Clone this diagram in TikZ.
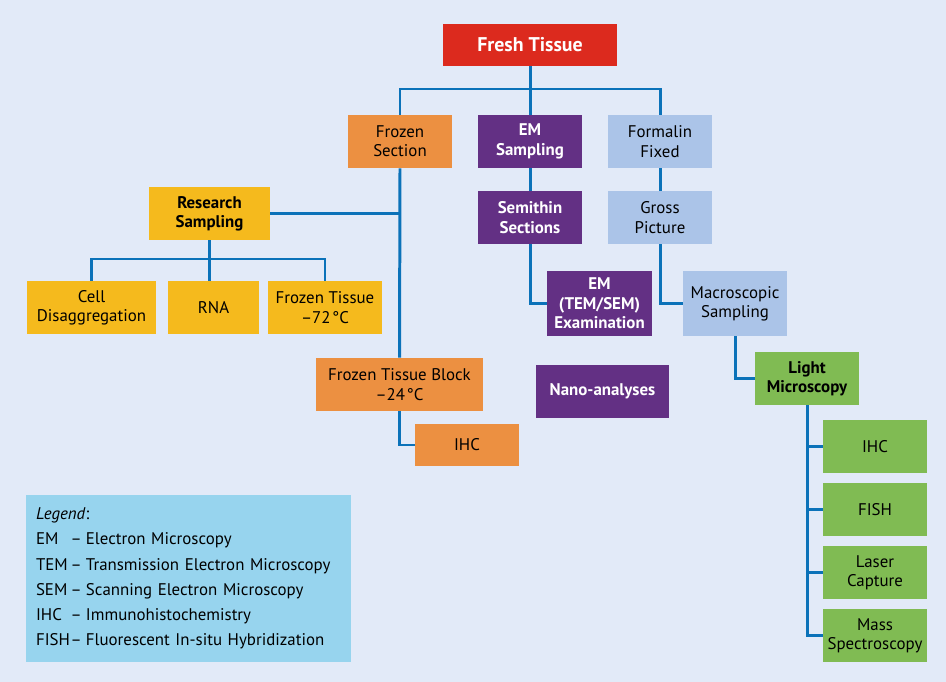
\documentclass[tikz,border=0pt]{standalone}
\usepackage{fontspec}
\setmainfont{PT Sans}
\usepackage{xcolor}
\usepackage{tikz}
\usetikzlibrary{positioning, calc}
\definecolor{bgblue}{HTML}{E2EAF8}
\definecolor{linkblue}{HTML}{0B72B9}
\definecolor{freshred}{HTML}{DC2A1E}
\definecolor{frozorange}{HTML}{EC9041}
\definecolor{empurple}{HTML}{633084}
\definecolor{formblue}{HTML}{ABC4E8}
\definecolor{resyellow}{HTML}{F5BA1D}
\definecolor{lmgreen}{HTML}{80BB53}
\definecolor{legblue}{HTML}{97D4EE}
\newcommand{\legitem}[2]{\makebox[2.05em][l]{#1}–\hspace{0.25em}#2}

\begin{document}
\begin{tikzpicture}[x=0.02cm, y=-0.02cm, font=\fontsize{9.6}{11}\selectfont,
    nbox/.style={rectangle, minimum width=2.08cm, minimum height=1.06cm,
      inner sep=1pt, align=center},
    fbox/.style={nbox, fill=frozorange},
    pbox/.style={nbox, fill=empurple, text=white, font=\fontsize{9.6}{11}\selectfont\bfseries},
    bbox/.style={nbox, fill=formblue},
    ybox/.style={nbox, fill=resyellow},
    gbox/.style={nbox, fill=lmgreen},
    link/.style={draw=linkblue, line width=1.7pt},
  ]
    \fill[bgblue] (0,0) rectangle (946,682);
    \useasboundingbox (0,0) rectangle (946,682);

    \node[nbox, fill=freshred, text=white, minimum width=3.48cm, minimum height=0.84cm,
      font=\fontsize{11.3}{13}\selectfont\bfseries] (fresh) at (530,45) {Fresh Tissue};

    \node[fbox] (frozen)   at (400,141.5) {Frozen\\Section};
    \node[pbox] (emsamp)   at (530,141.5) {EM\\Sampling};
    \node[bbox] (formalin) at (660,141.5) {Formalin\\Fixed};

    \node[ybox, font=\fontsize{9.6}{11}\selectfont\bfseries, minimum width=2.42cm]
      (research) at (209.5,213.5) {Research\\Sampling};
    \node[ybox, minimum width=2.58cm] (cell)     at (91.5,307.5) {Cell\\Disaggregation};
    \node[ybox, minimum width=1.82cm] (rna)      at (213.5,307.5) {RNA};
    \node[ybox, minimum width=2.28cm] (frozen72) at (325,307.5) {Frozen Tissue\\–72\hspace{0.1em}°C};

    \node[pbox] (semithin) at (530,217.5) {Semithin\\Sections};
    \node[bbox] (gross)    at (660,217.5) {Gross\\Picture};
    \node[pbox, minimum width=2.1cm, minimum height=1.3cm] (emexam) at (599.5,303.5)
      {EM\\(TEM/SEM)\\Examination};
    \node[bbox, minimum height=1.3cm] (macro) at (735,303.5) {Macroscopic\\Sampling};
    \node[gbox, font=\fontsize{9.6}{11}\selectfont\bfseries] (light) at (807,378.5)
      {Light\\Microscopy};

    \node[pbox, minimum width=2.66cm] (nano) at (602.5,391.5) {Nano-analyses};
    \node[fbox, minimum width=3.34cm] (ftb) at (399.5,384.5) {Frozen Tissue Block\\–24\hspace{0.1em}°C};
    \node[fbox, minimum height=0.84cm] (ihcA) at (467,445) {IHC};

    \node[gbox] (g1) at (875,446.5) {IHC};
    \node[gbox] (g2) at (875,509.5) {FISH};
    \node[gbox] (g3) at (875,572.5) {Laser\\Capture};
    \node[gbox] (g4) at (875,635.5) {Mass\\Spectroscopy};

    \node[rectangle, fill=legblue, minimum width=6.5cm, minimum height=3.34cm,
      text width=6.1cm, align=left, inner sep=0pt,
      font=\fontsize{9.6}{14.3}\selectfont] (legend) at (188.5,578.5)
      {\textit{Legend}:\\
       \legitem{EM}{Electron Microscopy}\\
       \legitem{TEM}{Transmission Electron Microscopy}\\
       \legitem{SEM}{Scanning Electron Microscopy}\\
       \legitem{IHC}{Immunohistochemistry}\\
       \legitem{FISH}{Fluorescent In-situ Hybridization}};

    % connectors
    \coordinate (bus) at (530,89);
    \draw[link] (fresh.south) -- (bus);
    \draw[link] (frozen.north) |- (bus) -| (formalin.north);
    \draw[link] (bus) -- (emsamp.north);
    \draw[link] (frozen.south) -- (ftb.north);
    \draw[link] (research.east) -- (frozen.south |- research.east);

    \coordinate (rbus) at (209.5,259);
    \draw[link] (research.south) -- (research.south |- rna.north);
    \draw[link] (cell.north) |- (rbus) -| (frozen72.north);

    \foreach \a/\b in {emsamp/semithin, formalin/gross} {
      \draw[link] (\a.south) -- (\b.north);
    }
    \foreach \a/\b in {semithin/emexam, gross/macro, macro/light, ftb/ihcA} {
      \draw[link] (\a.south) |- (\b.west);
    }

    \draw[link] (light.south) |- (g4.west);
    \foreach \g in {g1, g2, g3} {
      \draw[link] (light.south |- \g.west) -- (\g.west);
    }
  \end{tikzpicture}
\end{document}
